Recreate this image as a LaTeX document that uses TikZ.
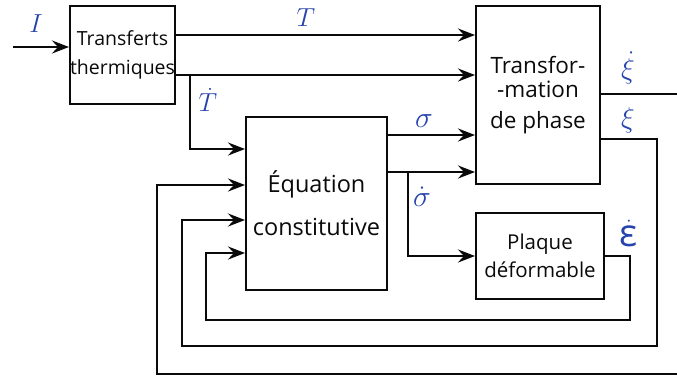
\documentclass[tikz,border=0pt]{standalone}
\usepackage{graphicx}
\usepackage{fontspec}
\setmainfont{Open Sans}
\setsansfont{Open Sans}
\usetikzlibrary{arrows.meta}
\definecolor{lblue}{RGB}{38,68,172}
\definecolor{ink}{RGB}{10,10,10}
\tikzset{
  blockbox/.style={draw=ink, line width=2pt, inner sep=0pt, anchor=north west, align=center, text=ink},
  conn/.style={draw=ink, line width=2.8pt},
  arr/.style={conn, -{Stealth[length=17pt,width=13pt,inset=6pt]}},
  lbl/.style={text=lblue, inner sep=0pt, font=\fontsize{24.88}{27}\selectfont},
}
\begin{document}
\begin{tikzpicture}[x=1pt,y=-1pt]
\useasboundingbox (0,0) rectangle (677,376);
% blocks
\node[blockbox, minimum width=104pt, minimum height=98pt,
  font=\fontsize{19.5}{29}\selectfont] (tt) at (69,5) {Transferts\\thermiques};
\node[blockbox, minimum width=124pt, minimum height=178pt,
  font=\fontsize{22.5}{24}\selectfont] (tp) at (475,5) {Transfor-\\-mation\\[7pt]de phase};
\node[blockbox, minimum width=141pt, minimum height=173pt,
  font=\fontsize{23.5}{43}\selectfont] (eq) at (245,116) {Équation\\constitutive};
\node[blockbox, minimum width=128pt, minimum height=86pt,
  font=\fontsize{20.5}{28}\selectfont] (pq) at (475,212) {Plaque\\déformable};
% input
\coordinate (in) at (13,47);
\draw[arr] (in) -- (in -| tt.west);
% outputs of Transferts
\draw[arr] ([yshift=-30pt]tt.north east) -- ([yshift=-30pt]tp.north west);
\draw[arr] ([yshift=-70pt]tt.north east) -- ([yshift=-70pt]tp.north west);
\coordinate (j1) at (190,75);
\draw[arr] (j1) |- ([yshift=-33pt]eq.north west);
% outputs of Equation
\draw[arr] ([yshift=-19pt]eq.north east) coordinate (s1) -- (s1 -| tp.west);
\draw[arr] ([yshift=-56pt]eq.north east) coordinate (s2) -- (s2 -| tp.west);
\coordinate (j2) at (408,172);
\draw[arr] (j2) |- (pq.west);
% feedback loops
\draw[arr] (pq.east) -| (630,320) -| (206,253) -- (eq.west |- 0,253);
\draw[arr] (tp.east |- 0,139) -| (657,346) -| (182,220) -- (eq.west |- 0,220);
\draw[arr] (tp.east |- 0,94) -| (700,374) -| (157,185) -- (eq.west |- 0,185);
% labels
\node[lbl] (lI) at (36,24) {\scalebox{1.05}{$I$}};
\node[lbl] (lT) at (306,18) {\scalebox{1.05}{$T$}};
\node[lbl] (lTd) at (208,100) {\scalebox{1.05}{$\dot{T}$}};
\node[lbl] (ls) at (424,121) {\scalebox{1.2}{$\sigma$}};
\node[lbl] (lsd) at (422,197) {\scalebox{1.2}{$\dot{\sigma}$}};
\node[lbl] (lxd) at (628,68) {\scalebox{1.15}{$\dot{\xi}$}};
\node[lbl] (lx) at (628,120) {\scalebox{1.15}{$\xi$}};
\node[lbl, font=\fontsize{38}{40}\selectfont] (led) at (629,234) {$\dot{\hbox{\sffamily ε}}$};
\end{tikzpicture}
\end{document}
